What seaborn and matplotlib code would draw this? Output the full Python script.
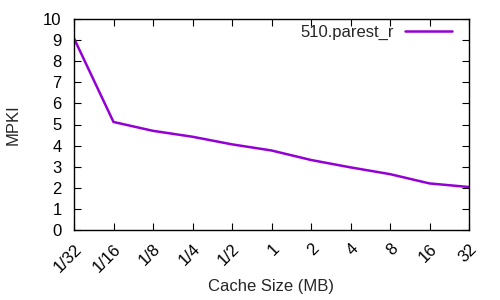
import matplotlib
matplotlib.use("Agg")
import matplotlib.pyplot as plt
import seaborn as sns
import pandas as pd

# cache sizes (MB) and misses per kilo-instruction
sizes = [1/32, 1/16, 1/8, 1/4, 1/2, 1, 2, 4, 8, 16, 32]
size_labels = ["1/32", "1/16", "1/8", "1/4", "1/2", "1", "2", "4", "8", "16", "32"]
mpki = [9.08, 5.12, 4.70, 4.42, 4.06, 3.77, 3.32, 2.97, 2.65, 2.21, 2.04]
bench = "510.parest_r"

sns.set_theme(style="ticks")
plt.rcParams["font.family"] = ["Liberation Sans", "DejaVu Sans"]
plt.rcParams["font.size"] = 12

df = pd.DataFrame({"size": sizes, "mpki": mpki, "bench": bench})

fig = plt.figure(figsize=(5, 3), dpi=100)
ax = fig.add_axes([0.148, 0.233, 0.79, 0.704])

sns.lineplot(data=df, x="size", y="mpki", hue="bench", palette=["#9400D3"],
             linewidth=1.8, ax=ax)

ax.set_xscale("log", base=2)
ax.set_xlim(sizes[0], sizes[-1])
ax.set_ylim(0, 10)
ax.set_xticks(sizes)
ax.set_xticklabels(size_labels, rotation=45, ha="right", rotation_mode="anchor")
ax.minorticks_off()
ax.set_yticks(range(0, 11))

ax.tick_params(direction="in", length=5, width=0.8, colors="black",
               labelsize=12, top=True, right=True)
ax.tick_params(axis="y", pad=9)
ax.tick_params(axis="x", pad=8)
for s in ax.spines.values():
    s.set_color("black")
    s.set_linewidth(1.0)

ax.set_xlabel("Cache Size (MB)", fontsize=12, labelpad=3)
ax.set_ylabel("MPKI", fontsize=12, labelpad=16)

leg = ax.legend(loc="center right", bbox_to_anchor=(0.957, 0.938),
                frameon=False, markerfirst=False, handlelength=2.8,
                handletextpad=0.7, fontsize=12, borderaxespad=0, borderpad=0)
for t in leg.get_texts():
    t.set_text(bench)

fig.savefig("out.png", dpi=100)
